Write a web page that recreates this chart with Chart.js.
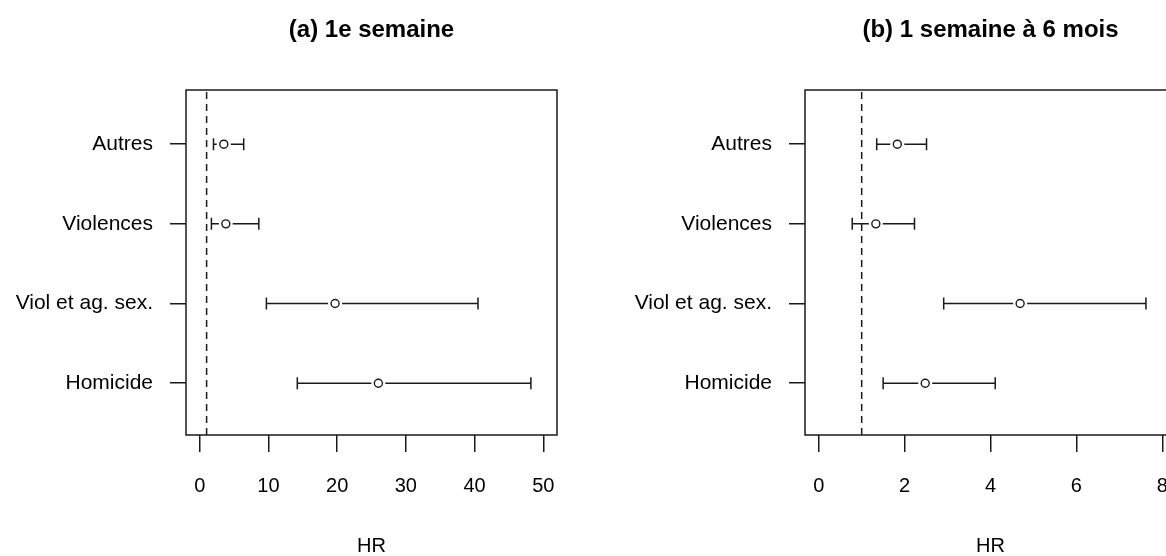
<!DOCTYPE html>
<html>
<head>
<meta charset="utf-8">
<script src="https://cdn.jsdelivr.net/npm/chart.js@4.4.0/dist/chart.umd.min.js"></script>
<style>
  html, body { margin: 0; padding: 0; background: #fff; }
  body { width: 1166px; height: 556px; overflow: hidden; position: relative; }
  canvas { position: absolute; top: 0; }
  #graphA { left: 0; }
  #graphB { left: 583px; }
</style>
</head>
<body>
<canvas id="graphA" width="583" height="556"></canvas>
<canvas id="graphB" width="620" height="556"></canvas>
<script>
// categories, top to bottom
const categories = ['Autres', 'Violences', 'Viol et ag. sex.', 'Homicide'];

// (a) 1e semaine
const hrWeek = [3.5, 3.8, 19.7, 26.0];
const lowWeek = [2.0, 1.7, 9.7, 14.2];
const highWeek = [6.4, 8.6, 40.5, 48.2];
const ticksWeek = [0, 10, 20, 30, 40, 50];

// (b) 1 semaine à 6 mois
const hrMonths = [1.83, 1.33, 4.69, 2.48];
const lowMonths = [1.35, 0.78, 2.91, 1.50];
const highMonths = [2.51, 2.23, 7.62, 4.11];
const ticksMonths = [0, 2, 4, 6, 8];

const refLine = 1;
const titles = ['(a) 1e semaine', '(b) 1 semaine à 6 mois'];

const fontName = "'Liberation Sans', Arial, sans-serif";
const ink = '#1a1a1a';
const yMin = 0.35, yMax = 4.68;

// box, intervals with caps and the panel title
const forestPlugin = {
  id: 'forest',
  beforeDatasetsDraw(chart, args, opts) {
    const {ctx, chartArea: a, scales: {x, y}} = chart;
    ctx.save();
    ctx.strokeStyle = ink;
    ctx.lineWidth = 1.5;
    ctx.strokeRect(a.left, a.top, a.right - a.left, a.bottom - a.top);
    opts.low.forEach((lo, i) => {
      const py = y.getPixelForValue(categories.length - i);
      const x1 = x.getPixelForValue(lo);
      const x2 = x.getPixelForValue(opts.high[i]);
      ctx.beginPath();
      ctx.moveTo(x1, py); ctx.lineTo(x2, py);
      ctx.moveTo(x1, py - 6); ctx.lineTo(x1, py + 6);
      ctx.moveTo(x2, py - 6); ctx.lineTo(x2, py + 6);
      ctx.stroke();
    });
    ctx.restore();
  },
  afterDraw(chart, args, opts) {
    const {ctx, chartArea: a} = chart;
    ctx.save();
    ctx.fillStyle = '#000';
    ctx.font = 'bold 24px ' + fontName;
    ctx.textAlign = 'center';
    ctx.textBaseline = 'middle';
    ctx.fillText(opts.title, (a.left + a.right) / 2, 30);
    ctx.restore();
  }
};

function makeChart(id, title, hr, low, high, xTicks, xMin, xMax, axisWidth, padRight) {
  const pts = hr.map((v, i) => ({x: v, y: categories.length - i}));
  return new Chart(document.getElementById(id).getContext('2d'), {
    type: 'scatter',
    data: {
      datasets: [
        {
          // estimate markers, on top
          data: pts,
          order: 0,
          pointRadius: 4,
          pointBackgroundColor: '#fff',
          pointBorderColor: ink,
          pointBorderWidth: 1.4
        },
        {
          // white gap around the markers
          data: pts,
          order: 1,
          pointRadius: 7,
          pointBackgroundColor: '#fff',
          pointBorderWidth: 0,
          pointBorderColor: '#fff'
        },
        {
          data: [{x: refLine, y: yMin}, {x: refLine, y: yMax}],
          order: 2,
          showLine: true,
          borderColor: ink,
          borderWidth: 1.5,
          borderDash: [7, 5],
          pointRadius: 0
        }
      ]
    },
    options: {
      responsive: false,
      animation: false,
      layout: { padding: { top: 90, right: padRight, left: 0, bottom: 0 } },
      plugins: {
        legend: { display: false },
        tooltip: { enabled: false },
        forest: { title: title, low: low, high: high }
      },
      scales: {
        x: {
          type: 'linear',
          min: xMin,
          max: xMax,
          afterBuildTicks: (s) => { s.ticks = xTicks.map(v => ({value: v})); },
          afterFit: (s) => { s.height = 121; },
          border: { display: false },
          grid: { drawOnChartArea: false, drawTicks: true, tickLength: 17, color: ink, lineWidth: 1.5 },
          ticks: { color: '#000', padding: 22, font: { family: fontName, size: 20 } },
          title: { display: true, text: 'HR', color: '#000', padding: 0, font: { family: fontName, size: 20, lineHeight: 1 } }
        },
        y: {
          type: 'linear',
          min: yMin,
          max: yMax,
          afterBuildTicks: (s) => { s.ticks = [1, 2, 3, 4].map(v => ({value: v})); },
          afterFit: (s) => { s.width = axisWidth; },
          border: { display: false },
          grid: { drawOnChartArea: false, drawTicks: true, tickLength: 16, color: ink, lineWidth: 1.5 },
          ticks: {
            color: '#000',
            padding: 17,
            font: { family: fontName, size: 21 },
            callback: (v) => categories[categories.length - v]
          }
        }
      }
    },
    plugins: [forestPlugin]
  });
}

makeChart('graphA', titles[0], hrWeek, lowWeek, highWeek, ticksWeek, -2, 52, 186, 26);
makeChart('graphB', titles[1], hrMonths, lowMonths, highMonths, ticksMonths, -0.32, 8.32, 222, 27);
</script>
</body>
</html>
